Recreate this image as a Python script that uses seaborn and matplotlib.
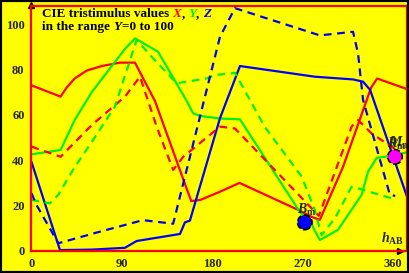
import matplotlib
matplotlib.use("Agg")
import matplotlib.pyplot as plt
import seaborn as sns

# hue angle h_AB (deg) and tristimulus values
x_solid_h = [0, 29, 35, 43, 55, 70, 88, 103, 123, 154, 159, 168, 187, 207, 266, 279, 287, 310, 330, 338, 344, 376]
x_solid_v = [73, 68, 72, 76, 79.5, 81.5, 83, 83, 66, 28, 22, 22.5, 26, 30, 18, 15, 13.7, 37, 62, 72, 76, 71]

y_solid_h = [0, 29, 43, 60, 93, 103, 126, 154, 161, 168, 187.5, 207.5, 267, 279, 287, 305, 328.5, 335, 343.5, 358.4, 376]
y_solid_v = [42.6, 44.5, 57.7, 70, 89, 93.7, 87.8, 66.5, 60.6, 59.5, 58.4, 58, 17.3, 11.5, 4.8, 9.3, 24.7, 35, 41, 42, 43.7]

z_solid_h = [0, 28.4, 60, 93, 104.7, 147.8, 152.7, 157.7, 187.6, 207.5, 282, 320, 330, 337, 376]
z_solid_v = [39.3, 0.4, 0.6, 1.4, 4.4, 7.5, 12.6, 13.4, 58.5, 81.5, 76.8, 75.6, 74.6, 71, 21]

x_dash_h = [0, 29, 60, 93, 108, 124.6, 141, 151, 187.6, 202.5, 286, 318.6, 325, 338.5, 353.4, 363.4]
x_dash_v = [46, 41.5, 55.5, 68, 76.8, 54.8, 35.7, 41.5, 54.8, 54, 15.5, 54.8, 57.7, 51.8, 47.4, 44.5]

y_dash_h = [0, 18.4, 26.7, 43, 60, 83, 104.7, 121, 144.5, 174, 182.6, 202.5, 232, 269, 282, 288.7, 302, 318.6, 325, 358.4]
y_dash_v = [22.5, 21, 24.7, 37, 48, 63.6, 93, 84.9, 73.9, 76, 77.5, 78.5, 54.8, 32.7, 18, 7, 14.4, 28.3, 27.6, 23.2]

z_dash_h = [0, 5, 26.7, 68, 111, 141, 187.6, 202.5, 287, 320, 325, 330, 356.7, 362]
z_dash_v = [25.5, 20.3, 3.4, 8.5, 13.6, 12, 94.4, 107, 95, 96.6, 87, 66.5, 24.7, 24.3]

marker_h = [272, 361.7]
marker_v = [12.6, 41.5]
marker_colors = ["#0000ff", "#ff00ff"]

x_ticks = [0, 90, 180, 270, 360]
y_ticks = [0, 20, 40, 60, 80, 100]

sns.set_style("white")
plt.rcParams['font.family'] = ['Liberation Serif', 'DejaVu Serif']
plt.rcParams['font.weight'] = 'bold'
plt.rcParams['mathtext.fontset'] = 'custom'
plt.rcParams['mathtext.it'] = 'Liberation Serif:italic:bold'
plt.rcParams['mathtext.bf'] = 'Liberation Serif:bold'
plt.rcParams['mathtext.rm'] = 'Liberation Serif:bold'

fig = plt.figure(figsize=(4.09, 2.73), dpi=100)
fig.patch.set_facecolor('#ffff00')
ax = fig.add_axes([0, 0, 1, 1])
ax.set_facecolor('#ffff00')

red, green, blue = "#ff0000", "#00f000", "#0000ff"
dash = (0, (3.5, 2.5))
series = [
    (x_solid_h, x_solid_v, red, '-'),
    (y_solid_h, y_solid_v, green, '-'),
    (z_solid_h, z_solid_v, blue, '-'),
    (x_dash_h, x_dash_v, red, dash),
    (y_dash_h, y_dash_v, green, dash),
    (z_dash_h, z_dash_v, blue, dash),
]
for h, v, c, ls in series:
    sns.lineplot(x=h, y=v, color=c, linestyle=ls, lw=1.6, ax=ax)

sns.scatterplot(x=marker_h, y=marker_v, hue=marker_h, palette=marker_colors, s=110,
                edgecolor='black', linewidth=1.2, linestyle='--', legend=False, ax=ax, zorder=5)

ax.set_xlim(-31.3, 375.7)
ax.set_ylim(-9.7, 110.6)
ax.set_xlabel('')
ax.set_ylabel('')

top, right = 107.9, 373.6
for s in ax.spines.values():
    s.set_visible(True)
    s.set_color(red)
    s.set_linewidth(1.6)
ax.spines['left'].set_position(('data', 0))
ax.spines['left'].set_bounds(0, top)
ax.spines['bottom'].set_position(('data', 0))
ax.spines['bottom'].set_bounds(0, right)
ax.spines['top'].set_position(('data', top))
ax.spines['top'].set_bounds(0, right)
ax.spines['right'].set_position(('data', right))
ax.spines['right'].set_bounds(0, top)

ax.set_xticks(x_ticks)
ax.set_yticks(y_ticks)
ax.tick_params(direction='inout', length=7, width=1.5, color='black', labelsize=9, pad=1.5)

# axis arrows
ax.plot([367], [0], marker='>', color='black', ms=5, clip_on=False)
ax.plot([0], [108.5], marker='^', color='black', ms=5, clip_on=False)

# title with coloured letters
def chain(parts, x, y):
    prev = ax.text(x, y, parts[0][0], color=parts[0][1], style=parts[0][2],
                   fontsize=9.5, fontweight='bold', va='bottom', ha='left')
    for txt, col, sty in parts[1:]:
        prev = ax.annotate(txt, xy=(1, 0), xycoords=prev, color=col, style=sty,
                           fontsize=9.5, fontweight='bold', va='bottom', ha='left')

chain([("CIE tristimulus values ", 'black', 'normal'), ("X", red, 'italic'),
       (", ", 'black', 'normal'), ("Y", green, 'italic'), (", ", 'black', 'normal'),
       ("Z", blue, 'italic')], 10.5, 101.8)
chain([("in the range ", 'black', 'normal'), ("Y", 'black', 'italic'),
       ("=0 to 100", 'black', 'normal')], 10.5, 96.2)

ax.text(264, 16.5, r'$B_\mathbf{m}$', fontsize=10)
ax.text(354, 45.5, r'$R_\mathbf{m}$', fontsize=10)
ax.text(355.5, 46, r'$M_\mathbf{m}$', fontsize=10)
ax.text(348, 3.5, r'$h_\mathbf{AB}$', fontsize=10)

fig.patches.append(plt.Rectangle((0, 0), 1, 1, transform=fig.transFigure, fill=False,
                                 edgecolor='black', linewidth=3))

fig.savefig("out.png", dpi=100, facecolor=fig.get_facecolor())
